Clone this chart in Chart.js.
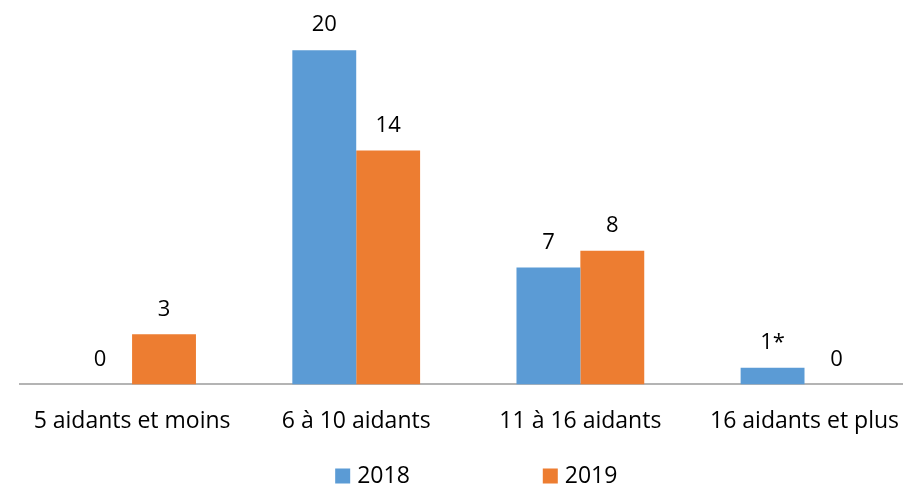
<!DOCTYPE html>
<html>
<head>
<meta charset="utf-8">
<script src="https://cdn.jsdelivr.net/npm/chart.js@4.4.0/dist/chart.umd.min.js"></script>
<style>
    html, body { margin: 0; padding: 0; background: #fff; overflow: hidden; }
    #wrap { position: relative; width: 922px; height: 484px; }
</style>
</head>
<body>
<div id="wrap"><canvas id="barChart"></canvas></div>
<script>
const categories = ['5 aidants et moins', '6 à 10 aidants', '11 à 16 aidants', '16 aidants et plus'];
const seriesNames = ['2018', '2019'];
const values2018 = [0, 20, 7, 1];
const values2019 = [3, 14, 8, 0];
const labels2018 = ['0', '20', '7', '1*'];
const labels2019 = ['3', '14', '8', '0'];
const seriesColors = ['#5B9BD5', '#ED7D31'];

const FONT = '"Open Sans", sans-serif';

// value labels above each bar
const valueLabels = {
    id: 'valueLabels',
    afterDatasetsDraw(chart) {
        const ctx = chart.ctx;
        ctx.save();
        ctx.font = '22px ' + FONT;
        ctx.fillStyle = '#000';
        ctx.textAlign = 'center';
        ctx.textBaseline = 'middle';
        chart.data.datasets.forEach((ds, i) => {
            chart.getDatasetMeta(i).data.forEach((bar, j) => {
                ctx.fillText(ds.valueLabels[j], bar.x, bar.y - 25);
            });
        });
        ctx.restore();
    }
};

// legend at the bottom, wide spacing like the original
const bottomLegend = {
    id: 'bottomLegend',
    afterDraw(chart) {
        const ctx = chart.ctx;
        ctx.save();
        ctx.font = '23px ' + FONT;
        ctx.textBaseline = 'middle';
        const box = 15, gap = 7, itemGap = 133;
        const ds = chart.data.datasets;
        const widths = ds.map(d => box + gap + ctx.measureText(d.label).width);
        const total = widths.reduce((a, b) => a + b, 0) + itemGap * (widths.length - 1);
        const area = chart.chartArea;
        let x = (area.left + area.right) / 2 + 8 - total / 2;
        const y = chart.height - 8;
        ds.forEach((d, i) => {
            ctx.fillStyle = d.backgroundColor;
            ctx.fillRect(x, y - box / 2, box, box);
            ctx.fillStyle = '#000';
            ctx.fillText(d.label, x + box + gap, y);
            x += widths[i] + itemGap;
        });
        ctx.restore();
    }
};

new Chart('barChart', {
    type: 'bar',
    data: {
        labels: categories,
        datasets: [
            {
                label: seriesNames[0],
                data: values2018,
                valueLabels: labels2018,
                backgroundColor: seriesColors[0],
                borderWidth: 0
            },
            {
                label: seriesNames[1],
                data: values2019,
                valueLabels: labels2019,
                backgroundColor: seriesColors[1],
                borderWidth: 0
            }
        ]
    },
    options: {
        responsive: true,
        maintainAspectRatio: false,
        animation: false,
        datasets: {
            bar: { categoryPercentage: 0.57, barPercentage: 1 }
        },
        layout: { padding: { left: 20, right: 0, top: 0, bottom: 26 } },
        plugins: {
            legend: { display: false },
            tooltip: { enabled: false }
        },
        scales: {
            x: {
                grid: { display: false, drawTicks: false },
                border: { display: true, color: '#B4B4B4', width: 2 },
                ticks: {
                    color: '#000',
                    font: { family: FONT, size: 23 },
                    padding: 23,
                    maxRotation: 0,
                    autoSkip: false
                }
            },
            y: { display: false, min: 0, max: 23 }
        }
    },
    plugins: [valueLabels, bottomLegend]
});
</script>
</body>
</html>
